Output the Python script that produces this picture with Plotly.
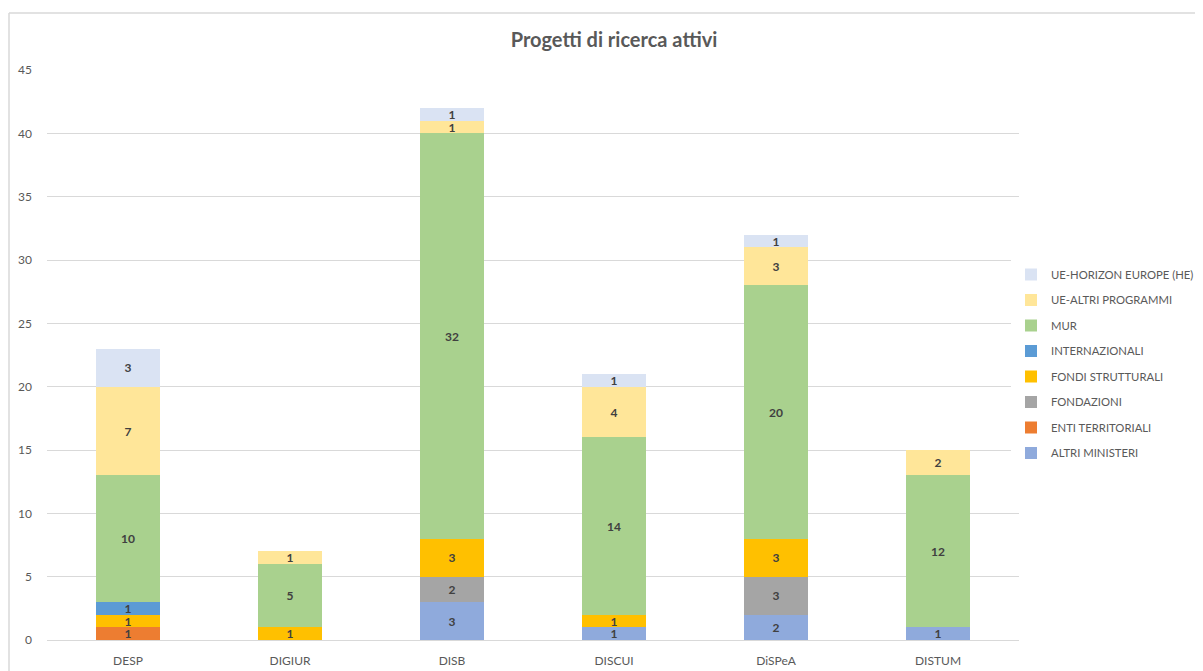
import plotly.graph_objects as go

categories = ["DESP", "DIGIUR", "DISB", "DISCUI", "DiSPeA", "DISTUM"]
series_names = ["ALTRI MINISTERI", "ENTI TERRITORIALI", "FONDAZIONI", "FONDI STRUTTURALI",
                "INTERNAZIONALI", "MUR", "UE-ALTRI PROGRAMMI", "UE-HORIZON EUROPE (HE)"]
altri_ministeri = [None, None, 3, 1, 2, 1]
enti_territoriali = [1, None, None, None, None, None]
fondazioni = [None, None, 2, None, 3, None]
fondi_strutturali = [1, 1, 3, 1, 3, None]
internazionali = [1, None, None, None, None, None]
mur = [10, 5, 32, 14, 20, 12]
ue_altri = [7, 1, 1, 4, 3, 2]
ue_he = [3, None, 1, 1, 1, None]
series_values = [altri_ministeri, enti_territoriali, fondazioni, fondi_strutturali,
                 internazionali, mur, ue_altri, ue_he]
colors = ["#8FAADC", "#ED7D31", "#A5A5A5", "#FFC000", "#5B9BD5", "#A9D18E", "#FFE699", "#DAE3F3"]

FONT = "Lato, Open Sans, sans-serif"
fig = go.Figure()
n = len(series_names)
for i, (name, vals, col) in enumerate(zip(series_names, series_values, colors)):
    fig.add_trace(go.Bar(
        x=categories, y=vals, name=name, legendgroup=name, legendrank=100 + (n - i),
        marker=dict(color=col, line=dict(width=0)),
        texttemplate="%{y}", textposition="inside", insidetextanchor="middle",
        textangle=0, constraintext="none",
        textfont=dict(family=FONT, size=12, color="#404040", weight="bold"),
    ))

OFF = 8  # browser body margin shifts the figure by this much
W, H = 1203, 671
L, R, T, B = 47 - OFF, 1019 - OFF, 70 - OFF, 640 - OFF
pw, ph = R - L, B - T
fig.update_layout(
    width=W, height=H, barmode="stack", bargap=0.605,
    margin=dict(l=L, r=W - R, t=T, b=H - B, autoexpand=False),
    plot_bgcolor="white", paper_bgcolor="white",
    font=dict(family=FONT, size=12, color="#595959"),
    uniformtext=dict(minsize=12, mode="show"),
    title=dict(text="<b>Progetti di ricerca attivi</b>", x=(614 - OFF) / W, xanchor="center",
               y=1 - (40 - OFF) / H, yanchor="middle", font=dict(size=20, color="#595959")),
    legend=dict(traceorder="grouped", x=(1011 - OFF) / W, xref="container", xanchor="left",
                y=1 - (364 - OFF) / H, yref="container", yanchor="middle",
                font=dict(size=11.3, color="#595959"), itemwidth=30, tracegroupgap=6.5,
                itemsizing="constant"),
    xaxis=dict(showgrid=False, showline=False, ticks="", ticklabelstandoff=12, automargin=False,
               tickfont=dict(size=12, color="#595959")),
    yaxis=dict(range=[0, 45], dtick=5, showgrid=True, gridcolor="#D9D9D9", gridwidth=1,
               zeroline=True, zerolinecolor="#D9D9D9", zerolinewidth=1, ticks="", automargin=False,
               ticklabelstandoff=14, tickfont=dict(size=12, color="#595959")),
    shapes=[
        dict(type="line", xref="paper", yref="paper", x0=(9 - 47) / pw, x1=(1210 - 47) / pw,
             y0=(640 - 13) / ph, y1=(640 - 13) / ph, line=dict(color="#D9D9D9", width=1.5)),
        dict(type="line", xref="paper", yref="paper", x0=(9 - 47) / pw, x1=(9 - 47) / pw,
             y0=(640 - 13) / ph, y1=-(680 - 640) / ph, line=dict(color="#D9D9D9", width=1.5)),
    ],
)
fig.write_html("out.html")
